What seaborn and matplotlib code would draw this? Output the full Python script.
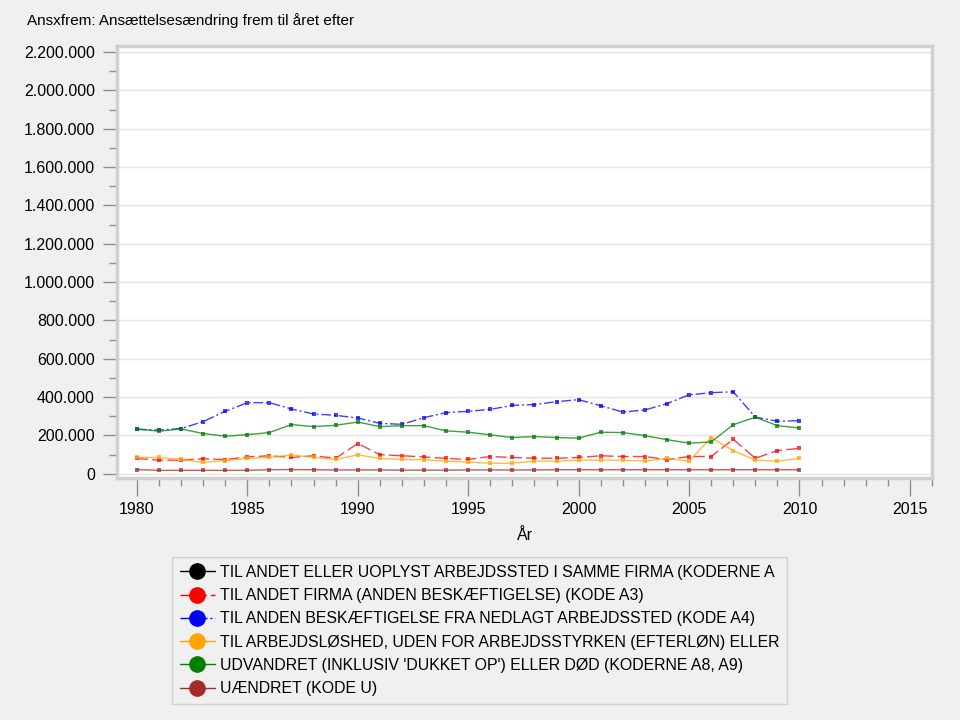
import numpy as np
import pandas as pd
import matplotlib
matplotlib.use("Agg")
import matplotlib.pyplot as plt
import seaborn as sns
from matplotlib.ticker import FuncFormatter, MultipleLocator
from matplotlib.lines import Line2D

years = list(range(1980, 2011))

labels = [
    "TIL ANDET ELLER UOPLYST ARBEJDSSTED I SAMME FIRMA (KODERNE A",
    "TIL ANDET FIRMA (ANDEN BESKÆFTIGELSE) (KODE A3)",
    "TIL ANDEN BESKÆFTIGELSE FRA NEDLAGT ARBEJDSSTED (KODE A4)",
    "TIL ARBEJDSLØSHED, UDEN FOR ARBEJDSSTYRKEN (EFTERLØN) ELLER",
    "UDVANDRET (INKLUSIV 'DUKKET OP') ELLER DØD (KODERNE A8, A9)",
    "UÆNDRET (KODE U)",
]

samme_firma = [np.nan] * len(years)
andet_firma = [80000, 71000, 71000, 78000, 74000, 88000, 94000, 85000, 94000, 81000,
               158000, 100000, 94000, 88000, 80000, 75000, 90000, 85000, 81000, 81000,
               85000, 94000, 90000, 90000, 74000, 90000, 90000, 180000, 81000, 121000, 133000]
nedlagt = [232000, 228000, 236000, 272000, 326000, 371000, 371000, 338000, 312000, 305000,
           291000, 263000, 258000, 293000, 319000, 326000, 336000, 357000, 361000, 376000,
           387000, 355000, 322000, 333000, 366000, 412000, 423000, 428000, 296000, 274000, 277000]
arbejdsloshed = [85000, 85000, 75000, 59000, 69000, 80000, 85000, 99000, 85000, 75000,
                 99000, 80000, 75000, 73000, 66000, 61000, 55000, 55000, 66000, 66000,
                 71000, 71000, 71000, 66000, 80000, 66000, 189000, 121000, 71000, 66000, 80000]
udvandret = [234000, 222000, 234000, 210000, 196000, 204000, 215000, 257000, 246000, 253000,
             270000, 246000, 251000, 251000, 224000, 217000, 203000, 189000, 194000, 189000,
             186000, 217000, 215000, 199000, 178000, 160000, 166000, 256000, 295000, 251000, 239000]
uaendret = [22000, 18000, 18000, 18000, 18000, 18000, 21000, 22000, 21000, 20000,
            20000, 20000, 19000, 19000, 19000, 20000, 20000, 20000, 20000, 21000,
            21000, 21000, 21000, 21000, 21000, 21000, 21000, 21000, 21000, 21000, 21000]

series = [samme_firma, andet_firma, nedlagt, arbejdsloshed, udvandret, uaendret]
colors = ["#000000", "#ff0000", "#0000ff", "#ffa500", "#008000", "#a52a2a"]
dashes = [None, (8, 3), (7, 2, 1.5, 2), None, None, None]

sns.set_theme(style="white")
plt.rcParams['font.family'] = ['Liberation Sans', 'DejaVu Sans']
plt.rcParams['text.color'] = 'black'
plt.rcParams['axes.labelcolor'] = 'black'

BG = "#f0f0f0"
fig = plt.figure(figsize=(9.6, 7.2), dpi=100, facecolor=BG)
ax = fig.add_axes([117/960, 1 - 478/720, (932-117)/960, (478-46)/720])
ax.set_facecolor("white")

for lab, vals, col, d in zip(labels, series, colors, dashes):
    df = pd.DataFrame({"År": years, "v": vals}).dropna()
    if df.empty:
        continue
    kw = {}
    if d is not None:
        kw["dashes"] = d
    sns.lineplot(data=df, x="År", y="v", ax=ax, color=col, lw=1.0, alpha=0.75,
                 marker="s", markersize=3, markeredgewidth=0, markerfacecolor=col,
                 legend=False, **kw)

ax.set_xlim(1979.1, 2016.0)
ax.set_ylim(-22000, 2232000)
ax.xaxis.set_major_locator(MultipleLocator(5))
ax.xaxis.set_minor_locator(MultipleLocator(1))
ax.yaxis.set_major_locator(MultipleLocator(200000))
ax.yaxis.set_minor_locator(MultipleLocator(100000))
ax.yaxis.set_major_formatter(FuncFormatter(lambda v, p: f"{int(round(v)):,}".replace(",", ".")))
ax.grid(axis="y", which="major", color="#e4e4e4", lw=1.0)
ax.set_axisbelow(True)

for s in ax.spines.values():
    s.set_color("#d0d0d0")
    s.set_linewidth(2.5)

ax.tick_params(axis="both", which="major", direction="out", length=10, width=1.0,
               color="#909090", labelsize=11.5, labelcolor="black", pad=6)
ax.tick_params(axis="both", which="minor", direction="out", length=6, width=1.0,
               color="#909090")
ax.tick_params(axis="x", which="major", length=13, pad=4)
ax.tick_params(left=True, bottom=True, which="both")

ax.set_xlabel("År", fontsize=11.5, labelpad=8)
ax.set_ylabel("")

fig.text(27/960, 1 - 21/720, "Ansxfrem: Ansættelsesændring frem til året efter",
         fontsize=11, va="center", ha="left")

handles = []
for col, d in zip(colors, dashes):
    ls = "-" if d is None else (0, d)
    handles.append(Line2D([0], [0], color=col, lw=1.0, linestyle=ls, marker="o",
                          markersize=11, markerfacecolor=col, markeredgecolor=col))
leg = fig.legend(handles, labels, loc="upper left",
                 bbox_to_anchor=(172/960, 1 - 557/720), frameon=True, fontsize=11.4,
                 handlelength=2.2, handletextpad=0.3, labelspacing=0.52,
                 borderpad=0.5, borderaxespad=0, fancybox=False, facecolor=BG,
                 edgecolor="#c8c8c8")
leg.get_frame().set_linewidth(1.0)
for t in leg.get_texts():
    t.set_color("black")

fig.savefig("out.png", dpi=100, facecolor=BG)
